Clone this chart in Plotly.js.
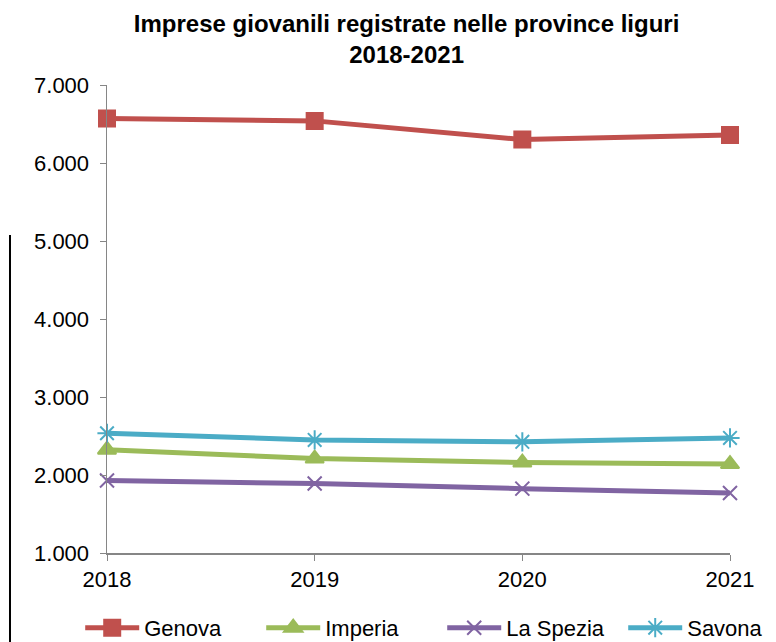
<!DOCTYPE html>
<html>
<head>
<meta charset="utf-8">
<script src="https://cdn.plot.ly/plotly-3.0.1.min.js"></script>
<style>html,body{margin:0;padding:0;background:#fff;}#chart{width:776px;height:642px;}</style>
</head>
<body>
<div id="chart"></div>
<script>
const years = [2018, 2019, 2020, 2021];
const genova = [6570, 6540, 6300, 6360];
const imperia = [2325, 2210, 2160, 2140];
const laSpezia = [1930, 1890, 1825, 1770];
const savona = [2535, 2450, 2425, 2475];
const seriesNames = ["Genova", "Imperia", "La Spezia", "Savona"];
const yTicks = [1000, 2000, 3000, 4000, 5000, 6000, 7000];

const colors = ["#C0504D", "#9BBB59", "#8064A2", "#4BACC6"];
const symbols = ["square", "triangle-up", "x-thin-open", "asterisk-open"];
const sizes = [16, 16, 14, 16];
const data = [genova, imperia, laSpezia, savona].map((vals, i) => ({
  x: years, y: vals, name: seriesNames[i], type: "scatter", mode: "lines+markers",
  cliponaxis: false,
  line: {color: colors[i], width: 5},
  marker: {symbol: symbols[i], size: sizes[i], color: colors[i], line: {color: colors[i], width: 2}}
}));

const layout = {
  width: 776, height: 642,
  margin: {l: 107, r: 46, t: 85, b: 89, autoexpand: false},
  paper_bgcolor: "#fff", plot_bgcolor: "#fff",
  separators: ",.",
  font: {family: "Arial, 'Liberation Sans', sans-serif", size: 22, color: "#000"},
  title: {text: "<b>Imprese giovanili registrate nelle province liguri<br>2018-2021</b>",
    font: {size: 24, color: "#000"}, x: 0.524, xref: "container", xanchor: "center",
    y: 0.95, yref: "container", yanchor: "top"},
  xaxis: {range: [2018, 2021], tickvals: years, ticktext: years.map(String),
    showgrid: false, zeroline: false, showline: true, linecolor: "#868686", linewidth: 1.5,
    ticks: "outside", ticklen: 6, tickcolor: "#868686", tickfont: {size: 22}},
  yaxis: {range: [1000, 7000], tickvals: yTicks, tickformat: ",.0f", ticklabelstandoff: 6,
    showgrid: false, zeroline: false, showline: true, linecolor: "#868686", linewidth: 1.5,
    ticks: "outside", ticklen: 6, tickcolor: "#868686", tickfont: {size: 22}},
  legend: {orientation: "h", x: -0.043, xanchor: "left", y: -0.16, yanchor: "middle",
    font: {size: 22}, entrywidth: 112, entrywidthmode: "pixels", itemwidth: 54, bgcolor: "rgba(0,0,0,0)"},
  shapes: [{type: "line", xref: "paper", yref: "paper", x0: -0.1557, x1: -0.1557, y0: 0.6795, y1: -0.2,
    line: {color: "#000", width: 2}}],
  showlegend: true
};
Plotly.newPlot("chart", data, layout, {displayModeBar: false, staticPlot: true});
</script>
</body>
</html>
